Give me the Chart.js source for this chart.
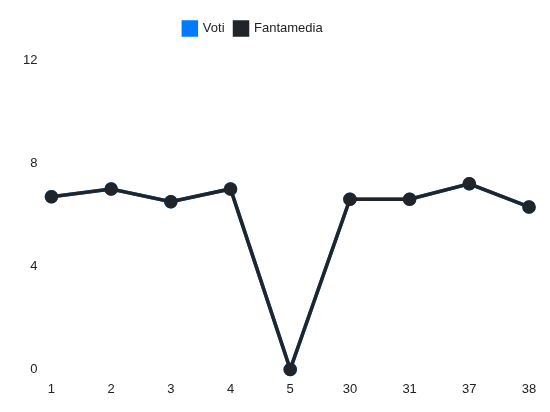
<!DOCTYPE html>
<html>
<head>
<meta charset="utf-8">
<script src="https://cdn.jsdelivr.net/npm/chart.js@4.4.0/dist/chart.umd.min.js"></script>
<style>
  html, body { margin: 0; padding: 0; background: #fff; }
  .chart-container { width: 550px; height: 412px; position: relative; }
</style>
</head>
<body>
<div class="chart-container"><canvas id="playerChart"></canvas></div>
<script>
// giornate and values
const giornate = ['1', '2', '3', '4', '5', '30', '31', '37', '38'];
const voti = [6.7, 7, 6.5, 7, 0, 6.6, 6.6, 7.2, 6.3];
const fantamedia = [6.7, 7, 6.5, 7, 0, 6.6, 6.6, 7.2, 6.3];
const yTicks = [0, 4, 8, 12];

// extra room under the legend, and legend nudged a bit to the left
const legendMargin = {
    id: 'legendMargin',
    beforeInit(chart) {
        const fit = chart.legend.fit;
        chart.legend.fit = function () {
            fit.bind(chart.legend)();
            this.height += 15;
        };
    },
    afterLayout(chart) {
        chart.legend.left -= 16;
        chart.legend.right -= 16;
    }
};

document.addEventListener('DOMContentLoaded', function () {
    Chart.defaults.font.family = '"Liberation Sans", Arial, sans-serif';
    Chart.defaults.font.size = 13;
    Chart.defaults.color = '#222';

    const ctx = document.getElementById('playerChart').getContext('2d');
    new Chart(ctx, {
        type: 'line',
        data: {
            labels: giornate,
            datasets: [
                {
                    label: 'Voti',
                    data: voti,
                    borderColor: '#007bff',
                    backgroundColor: '#007bff',
                    borderWidth: 3.5,
                    pointRadius: 5,
                    fill: false,
                    tension: 0,
                    clip: false,
                    order: 2
                },
                {
                    label: 'Fantamedia',
                    data: fantamedia,
                    borderColor: '#212529',
                    backgroundColor: '#212529',
                    borderWidth: 3.5,
                    pointRadius: 5,
                    fill: false,
                    tension: 0,
                    clip: false,
                    order: 1
                }
            ]
        },
        options: {
            responsive: true,
            maintainAspectRatio: false,
            animation: false,
            layout: { padding: { left: 9, right: 21, top: 12, bottom: 3 } },
            plugins: {
                legend: {
                    position: 'top',
                    labels: {
                        boxWidth: 13,
                        boxHeight: 13,
                        padding: 10,
                        sort: (a, b) => a.datasetIndex - b.datasetIndex
                    }
                },
                tooltip: { enabled: false }
            },
            scales: {
                x: {
                    grid: { display: false, drawTicks: false },
                    border: { display: false },
                    ticks: { padding: 12, maxRotation: 0 }
                },
                y: {
                    min: yTicks[0],
                    max: yTicks[yTicks.length - 1],
                    grid: { display: false, drawTicks: false },
                    border: { display: false },
                    ticks: { stepSize: 4, padding: 14 }
                }
            }
        },
        plugins: [legendMargin]
    });
});
</script>
</body>
</html>
